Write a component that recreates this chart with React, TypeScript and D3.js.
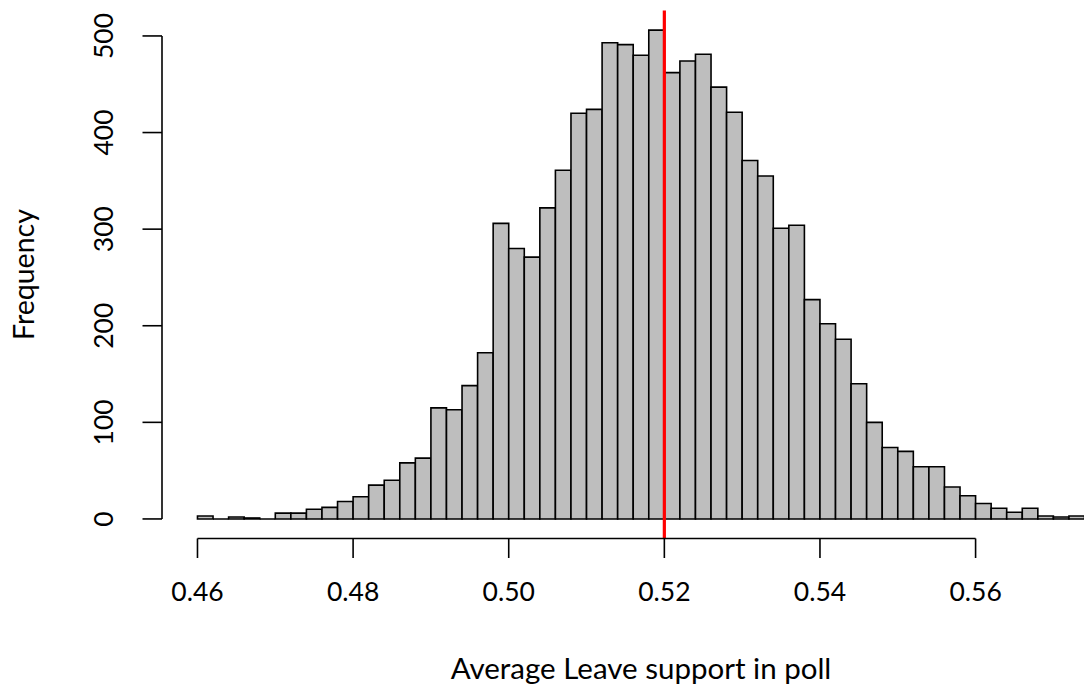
import { useEffect, useRef } from 'react';
import * as d3 from 'd3';

// histogram of simulated poll averages, bins of 0.002
const binStarts = [
  0.46, 0.462, 0.464, 0.466, 0.468, 0.47, 0.472, 0.474, 0.476, 0.478,
  0.48, 0.482, 0.484, 0.486, 0.488, 0.49, 0.492, 0.494, 0.496, 0.498,
  0.5, 0.502, 0.504, 0.506, 0.508, 0.51, 0.512, 0.514, 0.516, 0.518,
  0.52, 0.522, 0.524, 0.526, 0.528, 0.53, 0.532, 0.534, 0.536, 0.538,
  0.54, 0.542, 0.544, 0.546, 0.548, 0.55, 0.552, 0.554, 0.556, 0.558,
  0.56, 0.562, 0.564, 0.566, 0.568, 0.57, 0.572,
];
const binWidth = 0.002;
const counts = [
  3, 0, 2, 1, 0, 6, 6, 10, 12, 18,
  23, 35, 40, 58, 63, 115, 113, 138, 172, 306,
  280, 271, 322, 361, 420, 424, 493, 491, 480, 506,
  462, 474, 481, 447, 421, 371, 355, 301, 304, 227,
  202, 186, 140, 100, 74, 70, 54, 54, 33, 24,
  16, 11, 7, 11, 3, 2, 3,
];
const xTicks = [0.46, 0.48, 0.5, 0.52, 0.54, 0.56];
const yTicks = [0, 100, 200, 300, 400, 500];
const refLine = 0.52;

const FONT = 'Lato, sans-serif';

const App = () => {
  const ref = useRef(null);

  useEffect(() => {
    const width = 1084;
    const height = 691;
    const plot = { left: 162, right: 1120, top: 10.6, bottom: 538.5 };

    const svg = d3.select(ref.current);
    svg.selectAll('*').remove();
    svg.attr('width', width).attr('height', height);

    // R-style 4% padding around the data range
    const xMin = binStarts[0];
    const xMax = binStarts[binStarts.length - 1] + binWidth;
    const xPad = (xMax - xMin) * 0.04;
    const x = d3.scaleLinear().domain([xMin - xPad, xMax + xPad]).range([plot.left, plot.right]);
    const yMax = d3.max(counts);
    const y = d3.scaleLinear().domain([-yMax * 0.04, yMax * 1.04]).range([plot.bottom, plot.top]);

    const bins = binStarts.map((b, i) => ({ x0: b, x1: b + binWidth, n: counts[i] }));

    svg.append('g')
      .selectAll('path')
      .data(bins)
      .enter().append('path')
      .attr('d', (d) => {
        const p = d3.path();
        p.rect(x(d.x0), y(d.n), x(d.x1) - x(d.x0), y(0) - y(d.n));
        return p.toString();
      })
      .attr('fill', '#bebebe')
      .attr('stroke', '#000')
      .attr('stroke-width', 1.6);

    svg.append('line')
      .attr('x1', x(refLine)).attr('x2', x(refLine))
      .attr('y1', plot.top).attr('y2', plot.bottom)
      .attr('stroke', '#ff0000')
      .attr('stroke-width', 3.2);

    // x axis
    const xa = svg.append('g').attr('stroke', '#000').attr('stroke-width', 1.6);
    xa.append('line')
      .attr('x1', x(xTicks[0])).attr('x2', x(xTicks[xTicks.length - 1]))
      .attr('y1', plot.bottom).attr('y2', plot.bottom);
    xa.selectAll('.tick')
      .data(xTicks)
      .enter().append('line')
      .attr('x1', (d) => x(d)).attr('x2', (d) => x(d))
      .attr('y1', plot.bottom).attr('y2', plot.bottom + 19.5);
    svg.append('g')
      .selectAll('text')
      .data(xTicks)
      .enter().append('text')
      .attr('x', (d) => x(d))
      .attr('y', 601)
      .attr('text-anchor', 'middle')
      .attr('font-family', FONT)
      .attr('font-size', 26.5)
      .text((d) => d3.format('.2f')(d));

    // y axis
    const ya = svg.append('g').attr('stroke', '#000').attr('stroke-width', 1.6);
    ya.append('line')
      .attr('x1', plot.left).attr('x2', plot.left)
      .attr('y1', y(yTicks[0])).attr('y2', y(yTicks[yTicks.length - 1]));
    ya.selectAll('.tick')
      .data(yTicks)
      .enter().append('line')
      .attr('x1', plot.left - 19.5).attr('x2', plot.left)
      .attr('y1', (d) => y(d)).attr('y2', (d) => y(d));
    svg.append('g')
      .selectAll('text')
      .data(yTicks)
      .enter().append('text')
      .attr('transform', (d) => `translate(113, ${y(d)}) rotate(-90)`)
      .attr('text-anchor', 'middle')
      .attr('font-family', FONT)
      .attr('font-size', 26.5)
      .text((d) => d);

    svg.append('text')
      .attr('x', (plot.left + plot.right) / 2)
      .attr('y', 679)
      .attr('text-anchor', 'middle')
      .attr('font-family', FONT)
      .attr('font-size', 29.5)
      .text('Average Leave support in poll');

    svg.append('text')
      .attr('transform', `translate(34, ${(plot.top + plot.bottom) / 2}) rotate(-90)`)
      .attr('text-anchor', 'middle')
      .attr('font-family', FONT)
      .attr('font-size', 28.5)
      .text('Frequency');
  }, []);

  return (
    <svg ref={ref} style={{ position: 'absolute', left: 0, top: 0, background: '#fff' }}></svg>
  );
};

export default App;
